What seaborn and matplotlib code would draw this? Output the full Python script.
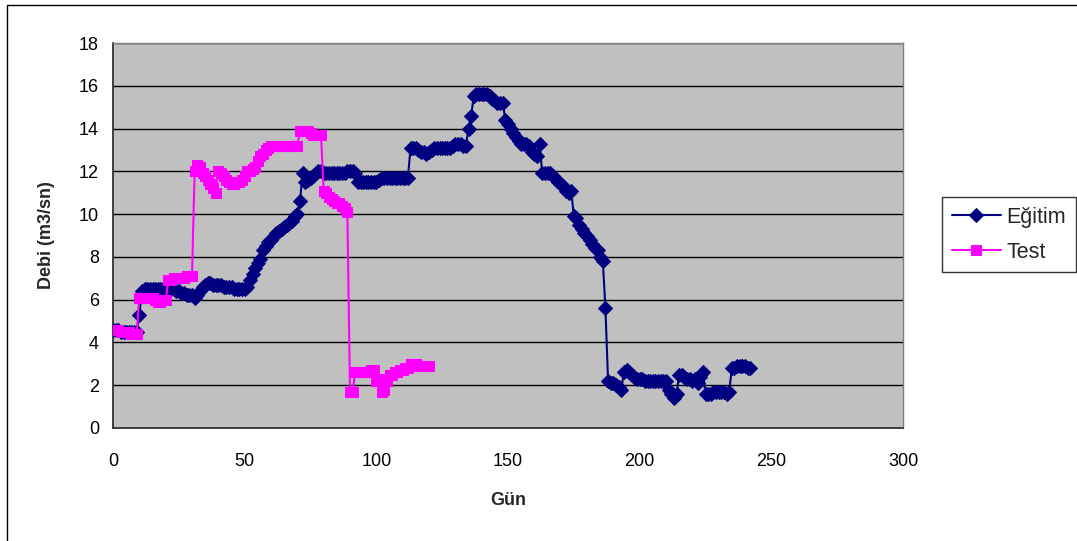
import matplotlib
matplotlib.use("Agg")
import matplotlib.pyplot as plt
from matplotlib.patches import Rectangle
import numpy as np
import pandas as pd
import seaborn as sns

# Daily flow values (m3/sn), one value per day starting at day 0
egitim = [
    4.6, 4.6, 4.6, 4.5, 4.5, 4.5, 4.5, 4.5, 4.5, 4.5,
    5.3, 6.4, 6.5, 6.5, 6.5, 6.5, 6.5, 6.5, 6.5, 6.5,
    6.5, 6.5, 6.5, 6.5, 6.4, 6.4, 6.3, 6.3, 6.2, 6.2,
    6.2, 6.1, 6.2, 6.4, 6.6, 6.7, 6.8, 6.8, 6.7, 6.7,
    6.7, 6.7, 6.6, 6.6, 6.6, 6.6, 6.5, 6.5, 6.5, 6.5,
    6.5, 6.6, 6.9, 7.2, 7.5, 7.7, 7.9, 8.3, 8.5, 8.7,
    8.8, 9.0, 9.1, 9.2, 9.3, 9.4, 9.5, 9.6, 9.7, 9.9,
    10.0, 10.6, 11.9, 11.5, 11.6, 11.7, 11.8, 11.9, 12.0, 12.0,
    11.9, 11.9, 11.9, 11.9, 11.9, 11.9, 11.9, 11.9, 11.9, 12.0,
    12.0, 12.0, 11.9, 11.5, 11.5, 11.5, 11.5, 11.5, 11.5, 11.5,
    11.5, 11.6, 11.7, 11.7, 11.7, 11.7, 11.7, 11.7, 11.7, 11.7,
    11.7, 11.7, 11.7, 13.1, 13.1, 13.1, 13.0, 12.9, 12.9, 12.8,
    12.9, 13.0, 13.1, 13.1, 13.1, 13.1, 13.1, 13.1, 13.1, 13.2,
    13.3, 13.3, 13.3, 13.2, 13.2, 14.0, 14.6, 15.5, 15.6, 15.6,
    15.6, 15.6, 15.6, 15.5, 15.4, 15.3, 15.2, 15.2, 15.2, 14.4,
    14.2, 14.0, 13.8, 13.6, 13.4, 13.3, 13.3, 13.3, 13.2, 12.9,
    12.8, 12.7, 13.3, 11.9, 11.9, 11.9, 11.9, 11.8, 11.7, 11.5,
    11.4, 11.3, 11.1, 11.0, 11.1, 9.9, 9.8, 9.5, 9.3, 9.1,
    9.0, 8.8, 8.6, 8.4, 8.3, 8.0, 7.8, 5.6, 2.2, 2.1,
    2.1, 2.0, 1.9, 1.8, 2.6, 2.7, 2.6, 2.5, 2.4, 2.3,
    2.3, 2.3, 2.2, 2.2, 2.2, 2.2, 2.2, 2.2, 2.2, 2.2,
    2.2, 1.8, 1.6, 1.4, 1.6, 2.5, 2.5, 2.4, 2.3, 2.3,
    2.2, 2.3, 2.1, 2.4, 2.6, 1.6, 1.6, 1.6, 1.7, 1.7,
    1.7, 1.7, 1.7, 1.6, 1.7, 2.8, 2.8, 2.9, 2.9, 2.9,
    2.9, 2.8, 2.8,
]

test = [
    4.6, 4.6, 4.6, 4.5, 4.5, 4.5, 4.5, 4.4, 4.4, 4.4,
    6.1, 6.1, 6.1, 6.1, 6.1, 6.1, 6.0, 5.9, 5.9, 6.0,
    6.0, 6.9, 6.9, 7.0, 7.0, 7.0, 7.0, 7.0, 7.1, 7.1,
    7.1, 12.0, 12.3, 12.2, 11.9, 11.8, 11.6, 11.4, 11.2, 11.0,
    12.0, 11.9, 11.8, 11.6, 11.5, 11.4, 11.4, 11.5, 11.5, 11.6,
    11.8, 12.0, 12.0, 12.1, 12.2, 12.5, 12.7, 12.8, 13.0, 13.1,
    13.2, 13.2, 13.2, 13.2, 13.2, 13.2, 13.2, 13.2, 13.2, 13.2,
    13.2, 13.9, 13.9, 13.9, 13.9, 13.8, 13.7, 13.7, 13.7, 13.7,
    11.1, 11.0, 10.8, 10.7, 10.6, 10.5, 10.5, 10.4, 10.3, 10.1,
    1.7, 1.7, 2.6, 2.6, 2.6, 2.6, 2.6, 2.6, 2.7, 2.7,
    2.2, 2.3, 1.7, 1.8, 2.2, 2.5, 2.5, 2.6, 2.6, 2.7,
    2.7, 2.8, 2.8, 3.0, 3.0, 3.0, 2.9, 2.9, 2.9, 2.9,
    2.9,
]

x_ticks = [0, 50, 100, 150, 200, 250, 300]
y_ticks = [0, 2, 4, 6, 8, 10, 12, 14, 16, 18]

df_egitim = pd.DataFrame({"Gün": np.arange(len(egitim)), "Debi": egitim})
df_test = pd.DataFrame({"Gün": np.arange(len(test)), "Debi": test})

sns.set_theme(style="white")
plt.rcParams["font.family"] = ["Liberation Sans", "DejaVu Sans"]

fig = plt.figure(figsize=(10.77, 5.41), dpi=100)
fig.patch.set_facecolor("white")
ax = fig.add_axes([113 / 1077, 1 - 428 / 541, (903 - 113) / 1077, (428 - 43) / 541])
ax.set_facecolor("#C0C0C0")

navy = "#000080"
magenta = "#FF00FF"

sns.lineplot(data=df_egitim, x="Gün", y="Debi", ax=ax, color=navy,
             marker="D", markersize=7, markeredgecolor=navy,
             markerfacecolor=navy, linewidth=1.5, label="Eğitim", zorder=3)
sns.lineplot(data=df_test, x="Gün", y="Debi", ax=ax, color=magenta,
             marker="s", markersize=7.5, markeredgecolor=magenta,
             markerfacecolor=magenta, linewidth=1.5, label="Test", zorder=4)

ax.set_xlim(0, 300)
ax.set_ylim(0, 18)
ax.set_xticks(x_ticks)
ax.set_yticks(y_ticks)
ax.set_xticklabels([str(t) for t in x_ticks])
ax.set_yticklabels([str(t) for t in y_ticks])

ax.yaxis.grid(True, color="black", linewidth=1.0)
ax.xaxis.grid(False)
ax.set_axisbelow(True)

for side in ["left", "bottom"]:
    ax.spines[side].set_color("#333333")
    ax.spines[side].set_linewidth(1.3)
for side in ["top", "right"]:
    ax.spines[side].set_color("#808080")
    ax.spines[side].set_linewidth(1.0)

ax.tick_params(axis="both", direction="out", length=5, width=1,
               color="#333333", labelsize=13, pad=5, labelcolor="black")
ax.tick_params(axis="x", pad=13)

ax.set_xlabel("Gün", fontsize=13, fontweight="bold", labelpad=16)
ax.set_ylabel("Debi (m3/sn)", fontsize=13, fontweight="bold", labelpad=17)

leg = ax.legend(loc="upper left", bbox_to_anchor=(942 / 1077, 1 - 197 / 541),
                bbox_transform=fig.transFigure, frameon=True, fancybox=False,
                fontsize=15.5, handlelength=2.3, handletextpad=0.25,
                borderpad=0.45, labelspacing=0.65, borderaxespad=0)
leg.get_frame().set_edgecolor("black")
leg.get_frame().set_linewidth(1.0)
leg.get_frame().set_facecolor("white")

# outer chart-area border
fig.add_artist(Rectangle((7 / 1077, -0.01), 1.0, 1 - 5 / 541 + 0.01,
                         transform=fig.transFigure, fill=False,
                         edgecolor="black", linewidth=1.0))

fig.savefig("out.png", dpi=100)
